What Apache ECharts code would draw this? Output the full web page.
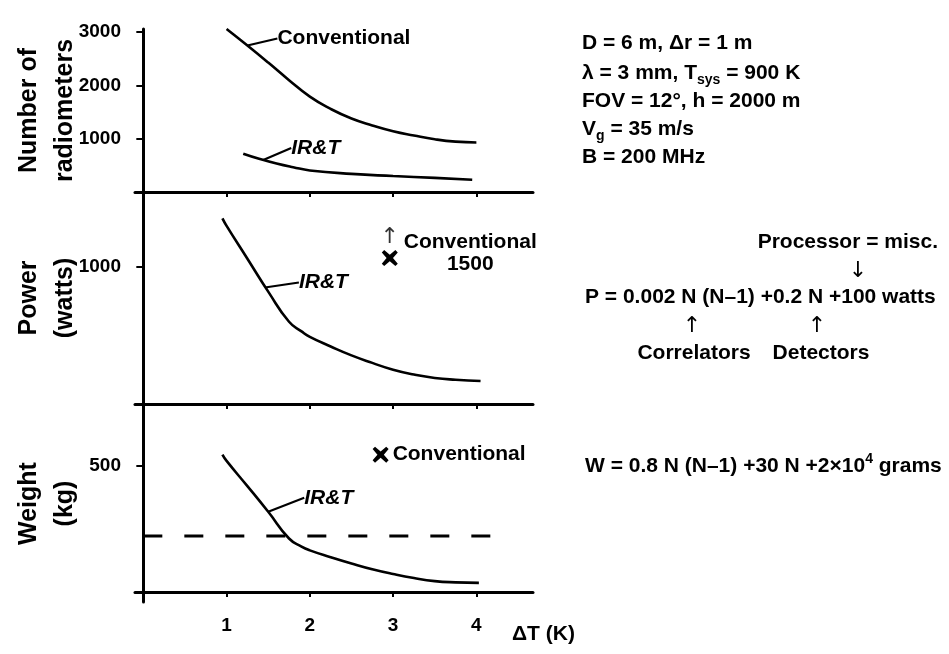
<!DOCTYPE html>
<html><head><meta charset="utf-8">
<script src="https://cdn.jsdelivr.net/npm/echarts@6/dist/echarts.min.js"></script>
<style>html,body{margin:0;padding:0;background:#fff}#c{width:949px;height:654px}</style>
</head><body><div id="c"></div>
<script>
// ---------- data ----------
const xTicks = [1, 2, 3, 4];
const yTicksN = [1000, 2000, 3000];
const yTicksP = [1000];
const yTicksW = [500];

const dTConvN = [1.0, 1.25, 1.5, 1.75, 2.0, 2.25, 2.5, 2.75, 3.0, 3.25, 3.5, 3.75, 4.0];
const convN   = [3060, 2750, 2430, 2100, 1790, 1560, 1380, 1250, 1140, 1060, 990, 945, 930];
const dTIrtN  = [1.2, 1.4, 1.6, 1.8, 2.0, 2.5, 3.0, 3.5, 3.95];
const irtN    = [720, 620, 535, 465, 405, 340, 300, 265, 230];

const dTIrtP  = [0.95, 1.0, 1.25, 1.5, 1.75, 1.9, 2.0, 2.25, 2.5, 2.75, 3.0, 3.25, 3.5, 3.75, 4.05];
const irtP    = [1355, 1300, 1060, 820, 600, 530, 490, 420, 355, 300, 250, 215, 190, 177, 168];
const convPmark = [[2.96, 1065]];   // off-scale marker (true value 1500)

const dTIrtW  = [0.95, 1.0, 1.25, 1.5, 1.75, 1.9, 2.0, 2.25, 2.5, 2.75, 3.0, 3.25, 3.5, 3.75, 4.03];
const irtW    = [545, 520, 420, 318, 212, 180, 165, 138, 113, 90, 71, 55, 43, 38, 36];
const convWmark = [[2.85, 545]];
const wLimitX = [0, 4.19];
const wLimit  = [222, 222];

// leader-line anchor points on the curves
const annConvN = [[1.25, 2750]];
const annIrtN  = [[1.44, 600]];
const annIrtP  = [[1.46, 850]];
const annIrtW  = [[1.5, 318]];

// ---------- font detection ----------
function hasFont(f){
  const c=document.createElement('canvas').getContext('2d');
  c.font='bold 40px monospace'; const a=c.measureText('Conventional IR&T 3000').width;
  c.font="bold 40px '"+f+"', monospace"; const b=c.measureText('Conventional IR&T 3000').width;
  return Math.abs(a-b)>1;
}
const NARROW = hasFont('Liberation Sans Narrow');
const FF = NARROW ? "'Liberation Sans Narrow', 'Liberation Sans', Arial, sans-serif" : "'Liberation Sans', Arial, sans-serif";
const K = NARROW ? 1 : 0.82;
const fs = n => Math.round(n*K);

const zip = (a,b) => a.map((v,i)=>[v,b[i]]);
const X_MIN=-0.1, X_MAX=4.68;
const grids = [
  {left:135, width:398, top:29,  height:163, outerBoundsMode:'none', containLabel:false},
  {left:135, width:398, top:192, height:212, outerBoundsMode:'none', containLabel:false},
  {left:135, width:398, top:405, height:197, outerBoundsMode:'none', containLabel:false}
];
const yRanges = [[0,3060],[0,1547],[-40,742]];
const yTicks = [yTicksN, yTicksP, yTicksW];
const yNames = ['Number of\nradiometers','Power\n(watts)','Weight\n(kg)'];
const nameGaps = [52, 52, 52];
const black='#000';

const xAxes=[], yAxes=[];
for(let g=0; g<3; g++){
  xAxes.push({type:'value', gridIndex:g, min:X_MIN, max:X_MAX,
    axisLine:{onZero:true, lineStyle:{color:black,width:3}},
    axisTick:{show:true, customValues:xTicks, length:5, lineStyle:{color:black,width:2}},
    axisLabel:{show:g===2, customValues:xTicks, margin:14, color:black, fontFamily:FF, fontWeight:'bold', fontSize:fs(23),
      formatter:v=>String(v)},
    splitLine:{show:false}});
  xAxes.push({type:'value', gridIndex:g, min:X_MIN, max:X_MAX,
    axisLine:{show:false, onZero:true},
    axisTick:{show:true, inside:true, customValues:xTicks, length:4, lineStyle:{color:black,width:2}},
    axisLabel:{show:false}, splitLine:{show:false}});
  yAxes.push({type:'value', gridIndex:g, min:yRanges[g][0], max:yRanges[g][1],
    axisLine:{onZero:true, lineStyle:{color:black,width:3}},
    axisTick:{show:true, customValues:yTicks[g], length:7, lineStyle:{color:black,width:2}},
    axisLabel:{customValues:yTicks[g], margin:14, color:black, fontFamily:FF, fontWeight:'bold', fontSize:fs(23),
      formatter:v=>String(v)},
    splitLine:{show:false},
    name:yNames[g], nameLocation:'middle', nameRotate:90, nameGap:nameGaps[g], nameMoveOverlap:false,
    nameTextStyle:{color:black, fontFamily:FF, fontWeight:'bold', fontSize:fs(30), lineHeight:36, align:'center'}});
}
// top cap on the 3000 tick
yAxes.push({type:'value', gridIndex:0, min:0, max:3060, axisLine:{show:false, onZero:true},
  axisTick:{show:true, inside:true, customValues:[3000], length:6, lineStyle:{color:black,width:2}},
  axisLabel:{show:false}, splitLine:{show:false}});

const lineBase = (g, data) => ({type:'line', xAxisIndex:g*2, yAxisIndex:g, data, showSymbol:false, symbol:'none',
  smooth:0.5, lineStyle:{color:black, width:2.6}, silent:true, z:3});
const labelStyle = (txt, italic) => ({show:true, formatter:txt, position:'right', distance:0, color:'#000', opacity:1,
  textBorderWidth:0, fontFamily:FF, fontWeight:'bold', fontStyle: italic?'italic':'normal', fontSize:fs(26)});
const annot = (g, data, txt, italic, dx, dy) => ({type:'scatter', xAxisIndex:g*2, yAxisIndex:g, data,
  symbolSize:0, silent:true, itemStyle:{color:'#000', opacity:1}, label:labelStyle(txt, italic),
  labelLayout:{dx, dy},
  labelLine:{show:true, smooth:0.5, lineStyle:{color:black, width:2.2, opacity:1}}});
const XPATH = 'path://M3,0 L10,6 L17,0 L20,3 L14,10 L20,17 L17,20 L10,14 L3,20 L0,17 L6,10 L0,3 Z';

const series = [
  lineBase(0, zip(dTConvN, convN)),
  lineBase(0, zip(dTIrtN, irtN)),
  lineBase(1, zip(dTIrtP, irtP)),
  lineBase(2, zip(dTIrtW, irtW)),
  {type:'line', xAxisIndex:4, yAxisIndex:2, data:zip(wLimitX, wLimit), symbol:'none', silent:true,
    lineStyle:{color:black, width:3, type:[19,22]}},
  annot(0, annConvN, 'Conventional', false, 30, -7),
  annot(0, annIrtN, 'IR&T', true, 28, -12),
  annot(1, annIrtP, 'IR&T', true, 34, -5),
  annot(2, annIrtW, 'IR&T', true, 36, -14),
  {type:'scatter', xAxisIndex:2, yAxisIndex:1, data:convPmark, symbol:XPATH, symbolSize:16, silent:true,
    itemStyle:{color:black, opacity:1},
    label:{show:true, position:'right', distance:6, offset:[0,-5], color:black,
      formatter:'{a|Conventional}\n{b|1500}',
      rich:{a:{fontFamily:FF, fontWeight:'bold', fontSize:fs(26), lineHeight:22, align:'left', color:black},
            b:{fontFamily:FF, fontWeight:'bold', fontSize:fs(26), lineHeight:22, align:'center', color:black}}}},
  {type:'scatter', xAxisIndex:2, yAxisIndex:1, data:convPmark, symbolSize:0, silent:true,
    label:{show:true, position:'top', distance:10, formatter:'↑', color:black,
      fontFamily:"'DejaVu Sans', sans-serif", fontWeight:'normal', fontSize:22}},
  {type:'scatter', xAxisIndex:4, yAxisIndex:2, data:convWmark, symbol:XPATH, symbolSize:16, silent:true,
    itemStyle:{color:black, opacity:1},
    label:{show:true, position:'right', distance:4, formatter:'Conventional', color:black,
      fontFamily:FF, fontWeight:'bold', fontSize:fs(26)}}
];

// ---------- side annotations ----------
const tBold = {fontFamily:FF, fontWeight:'bold', fontSize:fs(25), fill:black};
const richT = {
  n:{fontFamily:FF, fontWeight:'bold', fontSize:fs(25), color:black},
  s:{fontFamily:FF, fontWeight:'bold', fontSize:fs(17), color:black, padding:[14,0,0,0]},
  u:{fontFamily:FF, fontWeight:'bold', fontSize:fs(17), color:black, padding:[0,0,14,0]}
};
const paramLines = [
  '{n|D = 6 m, Δr = 1 m}',
  '{n|λ = 3 mm, T}{s|sys}{n| = 900 K}',
  '{n|FOV = 12°, h = 2000 m}',
  '{n|V}{s|g}{n| = 35 m/s}',
  '{n|B = 200 MHz}'
];
const paramY = [43, 73, 101, 129, 157];
const graphic = [];
paramLines.forEach((t,i)=>graphic.push({type:'text', x:582, y:paramY[i],
  style:{text:t, rich:richT, verticalAlign:'middle', align:'left'}}));
const txt = (t, x, y, align, extra) => ({type:'text', x, y, style:Object.assign({text:t, align:align||'left', verticalAlign:'middle'}, tBold, extra||{})});
const arrowStyle = {fontFamily:"'DejaVu Sans', sans-serif", fontWeight:'normal', fontSize:22};
graphic.push(txt('Processor = misc.', 938, 242, 'right'));
graphic.push(txt('↓', 858, 271, 'center', arrowStyle));
graphic.push(txt('P = 0.002 N (N–1) +0.2 N +100 watts', 585, 297, 'left'));
graphic.push(txt('↑', 692, 326, 'center', arrowStyle));
graphic.push(txt('↑', 817, 326, 'center', arrowStyle));
graphic.push(txt('Correlators', 694, 353, 'center'));
graphic.push(txt('Detectors', 821, 353, 'center'));
graphic.push({type:'text', x:585, y:466, style:{text:'{n|W = 0.8 N (N–1) +30 N +2×10}{u|4}{n| grams}', rich:richT, verticalAlign:'middle', align:'left'}});
graphic.push(txt('ΔT (K)', 512, 634, 'left'));

const chart = echarts.init(document.getElementById('c'), null, {renderer:'canvas'});
chart.setOption({
  animation:false, backgroundColor:'#fff',
  grid:grids, xAxis:xAxes, yAxis:yAxes, series, graphic
});
</script></body></html>
